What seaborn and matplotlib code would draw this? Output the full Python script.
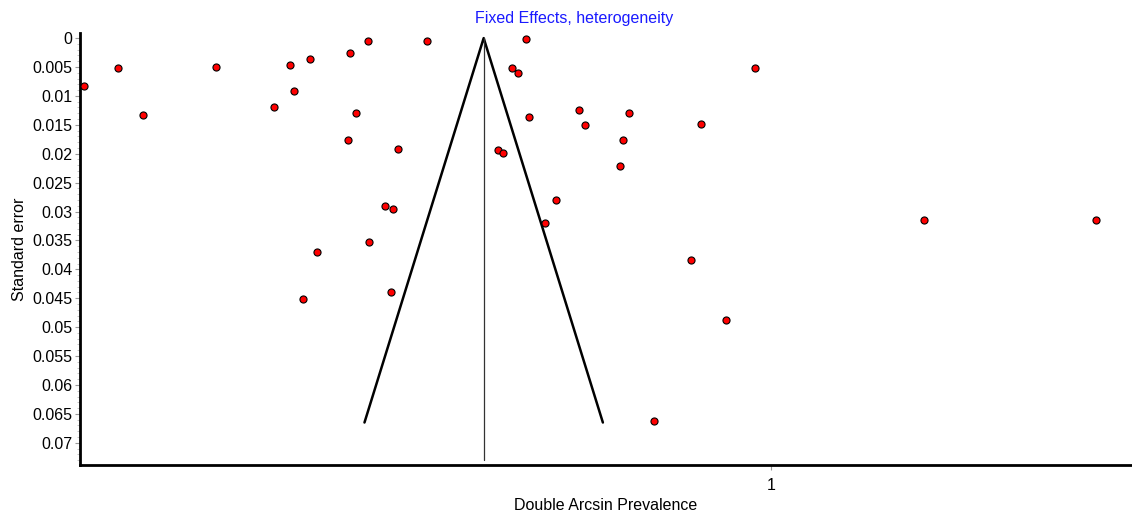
import numpy as np
import pandas as pd
import matplotlib
matplotlib.use("Agg")
import matplotlib.pyplot as plt
import seaborn as sns
from matplotlib.ticker import MultipleLocator

# Study effects (double arcsine prevalence) and standard errors
effect = [0.2491, 0.2856, 0.3133, 0.3934, 0.4569, 0.4744, 0.4784, 0.4959,
          0.5396, 0.5596, 0.5459, 0.5371, 0.5921, 0.5782, 0.5870, 0.5607,
          0.5036, 0.4882, 0.5848, 0.6235, 0.7321, 0.7171, 0.7237, 0.9825,
          0.7897, 0.8447, 0.7350, 0.7963, 0.9235, 0.8385, 0.7018, 0.7073,
          0.8349, 0.7649, 0.7525, 0.9122, 0.9511, 0.8721, 1.1676, 1.3554]
std_err = [0.0083, 0.0051, 0.01325, 0.00495, 0.01187, 0.0047, 0.0091, 0.00356,
           0.00253, 0.00055, 0.0130, 0.01758, 0.01919, 0.02905, 0.02962, 0.03522,
           0.03696, 0.04514, 0.04393, 0.00055, 0.0001, 0.00512, 0.00609, 0.00512,
           0.01244, 0.0130, 0.01365, 0.01503, 0.01481, 0.01758, 0.01936, 0.01993,
           0.02213, 0.0280, 0.0320, 0.03839, 0.04882, 0.0663, 0.03142, 0.03142]

pooled = 0.6858          # fixed-effects pooled estimate
funnel_se = 0.0665       # funnel depth (standard error)
center_line_se = 0.073   # extent of the vertical pooled line
z = 1.96

x_ticks = [1]
x_tick_labels = ["1"]
y_ticks = [0, 0.005, 0.01, 0.015, 0.02, 0.025, 0.03, 0.035, 0.04, 0.045,
           0.05, 0.055, 0.06, 0.065, 0.07]
y_tick_labels = ["0", "0.005", "0.01", "0.015", "0.02", "0.025", "0.03", "0.035",
                 "0.04", "0.045", "0.05", "0.055", "0.06", "0.065", "0.07"]

df = pd.DataFrame({"effect": effect, "se": std_err})

sns.set_theme(style="white")
plt.rcParams["font.family"] = ["Liberation Sans", "DejaVu Sans"]

fig = plt.figure(figsize=(11.32, 5.13), dpi=100)
ax = fig.add_axes([80 / 1132, 1 - 465.3 / 513, 1 - 80 / 1132, (465.3 - 33) / 513])

# funnel
funnel = pd.DataFrame({
    "x": [pooled - z * funnel_se, pooled, pooled + z * funnel_se],
    "y": [funnel_se, 0.0, funnel_se],
})
ax.plot(funnel["x"], funnel["y"], color="black", lw=1.8, zorder=2)
ax.plot([pooled, pooled], [0, center_line_se], color="#333333", lw=0.9, zorder=2)

sns.scatterplot(data=df, x="effect", y="se", ax=ax, color="#ff0000",
                edgecolor="black", linewidth=0.8, s=26, zorder=3, legend=False)

ax.set_xlim(0.2444, 1.3947)
ax.set_ylim(0.0739, -0.00088)

ax.set_xticks(x_ticks)
ax.set_xticklabels(x_tick_labels)
ax.set_yticks(y_ticks)
ax.set_yticklabels(y_tick_labels)
ax.yaxis.set_minor_locator(MultipleLocator(0.001))

for s in ["top", "right"]:
    ax.spines[s].set_visible(False)
for s in ["left", "bottom"]:
    ax.spines[s].set_color("black")
    ax.spines[s].set_linewidth(2)

ax.tick_params(axis="both", which="major", direction="out", length=3.5, width=0.8,
               color="#999999", labelsize=11.5, pad=2, labelcolor="black",
               left=True, bottom=True)
ax.tick_params(axis="x", which="major", pad=5.5)
ax.tick_params(axis="y", which="minor", direction="out", length=2, width=0.6,
               color="#bbbbbb", left=True)

ax.set_xlabel("Double Arcsin Prevalence", fontsize=11.5, labelpad=3.5, color="black")
ax.set_ylabel("Standard error", fontsize=11.5, labelpad=4, color="black")
ax.grid(False)

fig.text(574 / 1132, 1 - 18 / 513, "Fixed Effects, heterogeneity", color="#1a1aff",
         fontsize=11.5, ha="center", va="center")

fig.savefig("out.png", dpi=100, facecolor="white")
